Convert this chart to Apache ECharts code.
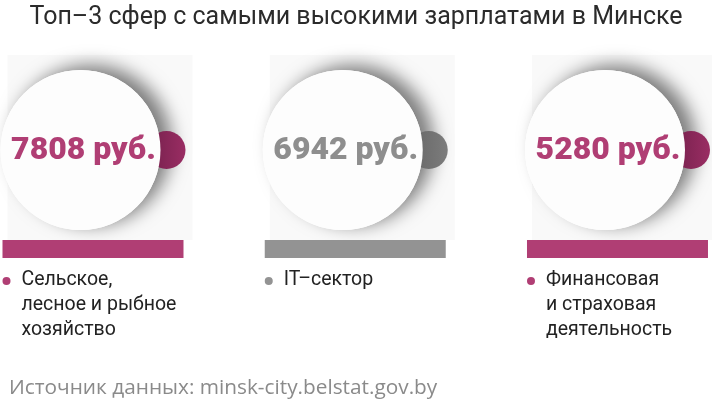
<!DOCTYPE html>
<html>
<head>
<meta charset="utf-8">
<script src="https://cdn.jsdelivr.net/npm/echarts@6/dist/echarts.min.js"></script>
<style>
  html, body { margin: 0; padding: 0; background: #fff; }
  #chart { width: 712px; height: 406px; }
</style>
</head>
<body>
<div id="chart"></div>
<script>
// данные
var sectors = ['Сельское,\nлесное и рыбное\nхозяйство', 'IT–сектор', 'Финансовая\nи страховая\nдеятельность'];
var salaries = [7808, 6942, 5280];
var unit = 'руб.';
var titleText = 'Топ–3 сфер с самыми высокими зарплатами в Минске';
var sourceText = 'Источник данных: minsk-city.belstat.gov.by';

// цвета по секторам
var mainColor = ['#b03e74', '#939393', '#b03e74'];
var darkColor = [['#74204c', '#9a2d63'], ['#666666', '#7c7c7c'], ['#74204c', '#9a2d63']];
var textColor = ['#b03e74', '#8e8e8e', '#b03e74'];

var myChart = echarts.init(document.getElementById('chart'));

function renderPanel(params, api) {
    var i = params.dataIndex;
    var cx = api.coord([api.value(0), 0])[0];   // центр блока
    var ccx = cx - 12, ccy = 150, r = 80;        // большой круг
    var barLeft = cx - 90;
    return {
        type: 'group',
        children: [
            { type: 'rect', shape: { x: ccx - 73, y: 55, width: 185, height: 185 },
              style: { fill: '#f9f9f9' } },
            { type: 'circle', shape: { cx: ccx, cy: ccy, r: r },
              style: { fill: '#fff', shadowBlur: 18, shadowColor: 'rgba(0,0,0,0.5)', shadowOffsetX: 11, shadowOffsetY: -5 } },
            { type: 'circle', shape: { cx: ccx + 86, cy: ccy, r: 19 },
              style: { fill: new echarts.graphic.LinearGradient(0, 0, 1, 0, [
                  { offset: 0, color: darkColor[i][0] }, { offset: 1, color: darkColor[i][1] }]) } },
            { type: 'circle', shape: { cx: ccx, cy: ccy, r: r },
              style: { fill: '#fdfdfd' } },
            { type: 'text', style: {
                text: api.value(1) + ' ' + unit, x: ccx + 3, y: ccy + 1,
                align: 'center', verticalAlign: 'middle',
                fill: textColor[i], fontSize: 32, fontWeight: 900, fontFamily: 'Roboto' } },
            { type: 'rect', shape: { x: barLeft, y: 240, width: 181, height: 18 },
              style: { fill: mainColor[i] } },
            { type: 'circle', shape: { cx: barLeft + 4, cy: 281, r: 4 },
              style: { fill: mainColor[i] } },
            { type: 'text', style: {
                text: sectors[i], x: barLeft + 19, y: 268,
                align: 'left', verticalAlign: 'top', lineHeight: 25,
                fill: '#222', fontSize: 19.5, fontFamily: 'Roboto' } }
        ]
    };
}

option = {
    backgroundColor: '#fff',
    animation: false,
    title: [
        {
            text: titleText,
            left: 'center',
            top: 0,
            textStyle: { color: '#2b2b2b', fontSize: 25, fontWeight: 'normal', fontFamily: 'Roboto' }
        },
        {
            text: sourceText,
            left: 4,
            top: 373,
            textStyle: { color: '#8a8a8a', fontSize: 20.8, fontWeight: 'normal', fontFamily: 'Open Sans' }
        }
    ],
    grid: { left: 0, right: 0, top: 0, bottom: 0 },
    xAxis: { type: 'value', min: -0.3527, max: 2.3623, show: false },
    yAxis: { type: 'value', min: 0, max: 1, show: false },
    series: [
        {
            type: 'custom',
            renderItem: renderPanel,
            data: salaries.map(function (v, i) { return [i, v]; })
        }
    ]
};

myChart.setOption(option);
</script>
</body>
</html>
